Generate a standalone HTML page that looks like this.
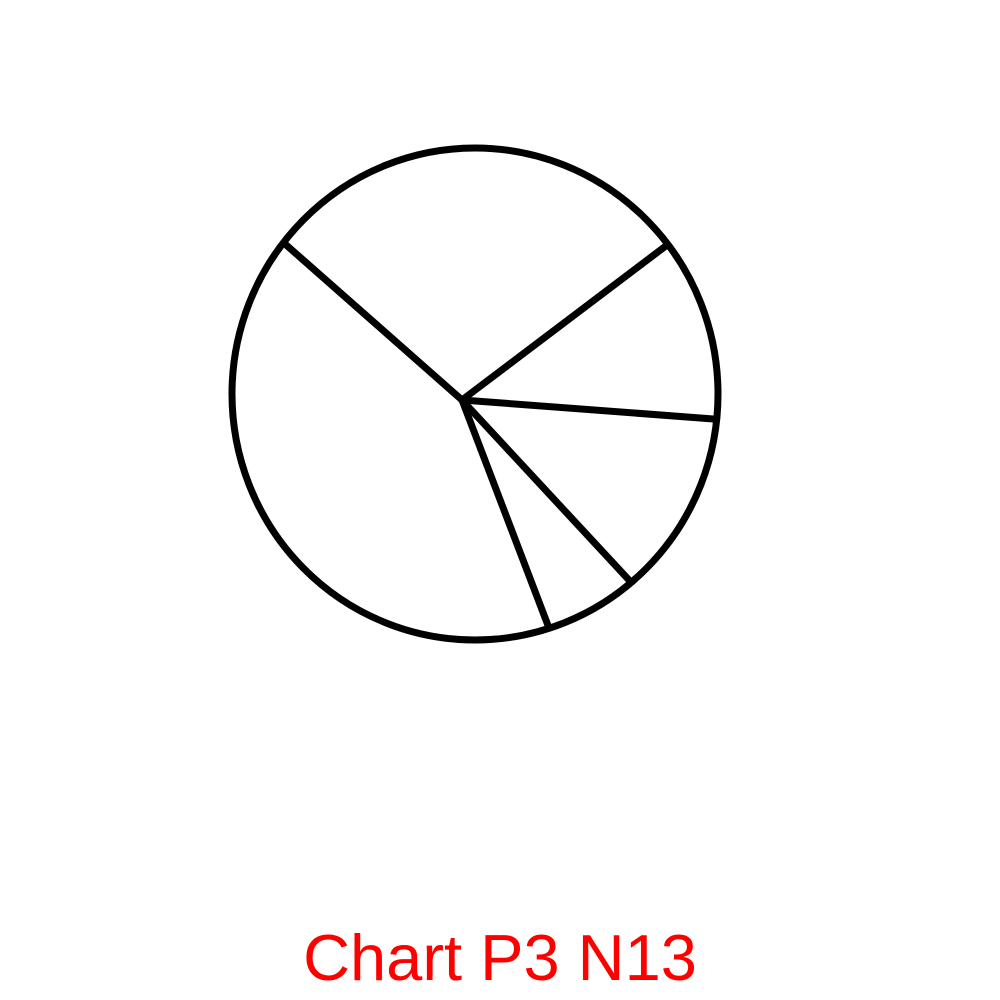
<!DOCTYPE html>
<html><head><meta charset="utf-8"><style>
html,body{margin:0;padding:0;background:#fff;width:1000px;height:1000px;overflow:hidden}
</style></head><body>
<svg id="chart" width="1000" height="1000" viewBox="0 0 1000 1000" xmlns="http://www.w3.org/2000/svg">
<rect width="1000" height="1000" fill="#fff"/>
<g id="pie"></g>
<text x="500" y="980" text-anchor="middle" font-family="Liberation Sans, sans-serif" font-size="65" fill="#f00">Chart P3 N13</text>
</svg>
<script>
const labels = ["A","B","C","D","E"];
const values = [28.2, 11.5, 11.9, 6.1, 42.3];
const startAngle = 138.6;
const ns = "http://www.w3.org/2000/svg";
const g = document.getElementById('pie');
const cx = 462, cy = 400;
const ox = 475, oy = 394, R = 243;
const outline = document.createElementNS(ns,'ellipse');
outline.setAttribute('cx',ox);outline.setAttribute('cy',oy);
outline.setAttribute('rx',R);outline.setAttribute('ry',246);
outline.setAttribute('fill','none');outline.setAttribute('stroke','#000');outline.setAttribute('stroke-width','7');


g.appendChild(outline);
function rayHit(deg){
  const a = deg*Math.PI/180, dx=Math.cos(a), dy=-Math.sin(a);
  const fx=cx-ox, fy=cy-oy;
  const b = fx*dx+fy*dy, c=fx*fx+fy*fy-R*R;
  const t = -b+Math.sqrt(b*b-c);
  return [cx+dx*t, cy+dy*t];
}
const total = values.reduce((s,v)=>s+v,0);
let ang = startAngle;
values.forEach((v,i)=>{
  const p = rayHit(ang);
  const l = document.createElementNS(ns,'line');
  l.setAttribute('x1',cx);l.setAttribute('y1',cy);
  l.setAttribute('x2',p[0]);l.setAttribute('y2',p[1]);
  l.setAttribute('stroke','#000');l.setAttribute('stroke-width','7');l.setAttribute('stroke-linecap','round');
  
  
  g.appendChild(l);
  ang -= v/total*360;
});
</script>
</body></html>
